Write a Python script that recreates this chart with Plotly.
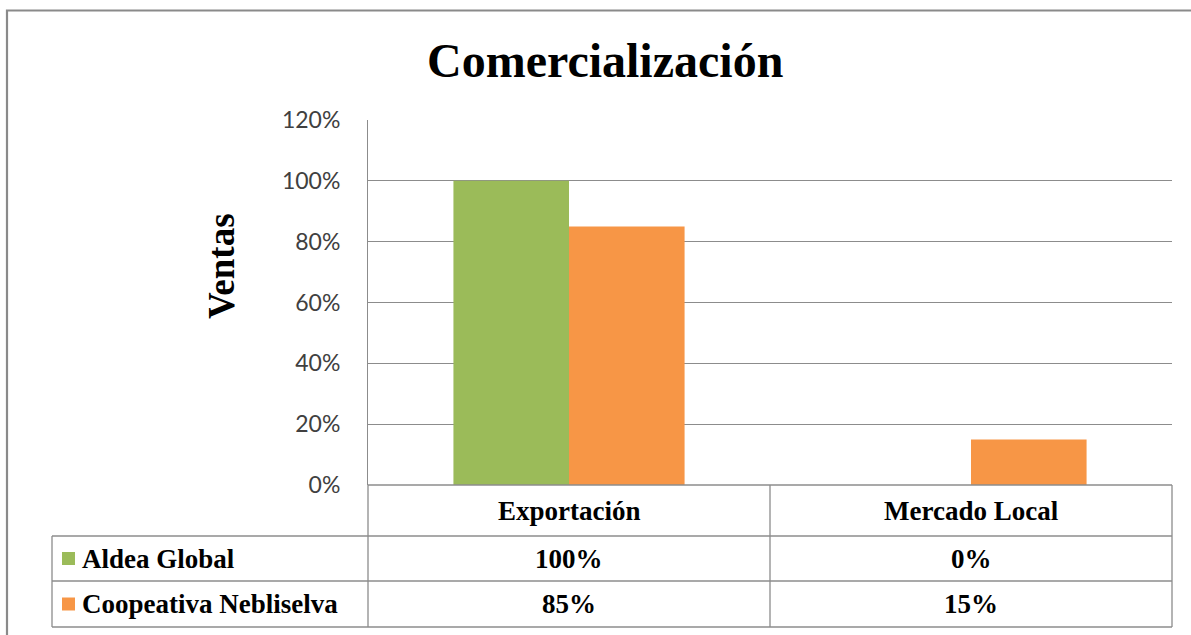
import plotly.graph_objects as go

# ---- data ----
categories = ["Exportación", "Mercado Local"]
series_names = ["Aldea Global", "Coopeativa Nebliselva"]
aldea_global = [1.00, 0.00]
coop_nebliselva = [0.85, 0.15]
series_values = [aldea_global, coop_nebliselva]
series_colors = ["#9BBB59", "#F79646"]
y_ticks = [0, 0.2, 0.4, 0.6, 0.8, 1.0, 1.2]

W, H = 1191, 635
def px(x):
    return x / W
def py(y):
    return 1 - y / H

SERIF = "Liberation Serif, Times New Roman, serif"
SANS = "Lato, Carlito, Calibri, sans-serif"
GRID = "#8C8C8C"

fig = go.Figure()
for name, vals, col in zip(series_names, series_values, series_colors):
    fig.add_trace(go.Bar(x=categories, y=vals, name=name, marker_color=col,
                         marker_line_width=0, showlegend=False))

x_left, x_right = 368, 1172
y_top, y_bottom = 120, 485

fig.update_layout(
    width=W, height=H,
    margin=dict(l=0, r=0, t=0, b=0, pad=0, autoexpand=False),
    paper_bgcolor="white", plot_bgcolor="white",
    barmode="group", bargap=0.425, bargroupgap=0,
    xaxis=dict(domain=[px(x_left), px(x_right)], showticklabels=False,
               showgrid=False, zeroline=False, showline=False, fixedrange=True,
               automargin=False),
    yaxis=dict(domain=[py(y_bottom), py(y_top)], range=[0, 1.2],
               tickvals=y_ticks, tickformat=".0%",
               tickfont=dict(family=SANS, size=23, color="#404040"),
               ticklabelstandoff=22, automargin=False,
               showgrid=True, gridcolor=GRID, gridwidth=1,
               zeroline=False, showline=True, linecolor=GRID, linewidth=1,
               ticks=""),
)

shapes = []
line = dict(color=GRID, width=1.3)
# outer frame
shapes.append(dict(type="rect", xref="paper", yref="paper",
                   x0=px(7), x1=1.02, y0=-0.02, y1=py(10.5),
                   line=dict(color="#8A8A8A", width=2.2)))
# data table lines
row_ys = [485, 536, 581, 627]
shapes.append(dict(type="line", xref="paper", yref="paper",
                   x0=px(x_left), x1=px(x_right), y0=py(485), y1=py(485), line=line))
for yv in row_ys[1:]:
    shapes.append(dict(type="line", xref="paper", yref="paper",
                       x0=px(52), x1=px(x_right), y0=py(yv), y1=py(yv), line=line))
for xv in [x_left, 770, x_right]:
    shapes.append(dict(type="line", xref="paper", yref="paper",
                       x0=px(xv), x1=px(xv), y0=py(485), y1=py(627), line=line))
shapes.append(dict(type="line", xref="paper", yref="paper",
                   x0=px(52), x1=px(52), y0=py(536), y1=py(627), line=line))
# legend keys
row_centers = [558.5, 604]
for yc, col in zip(row_centers, series_colors):
    shapes.append(dict(type="rect", xref="paper", yref="paper",
                       x0=px(62), x1=px(75), y0=py(yc + 6.5), y1=py(yc - 6.5),
                       fillcolor=col, line=dict(width=0)))
fig.update_layout(shapes=shapes)

ann = []
# title
ann.append(dict(text="<b>Comercialización</b>", xref="paper", yref="paper",
                x=px(605), y=py(60), showarrow=False,
                font=dict(family=SERIF, size=48, color="black"),
                xanchor="center", yanchor="middle"))
# y axis title
ann.append(dict(text="<b>Ventas</b>", xref="paper", yref="paper",
                x=px(221), y=py(266), showarrow=False, textangle=-90,
                font=dict(family=SERIF, size=37, color="black"),
                xanchor="center", yanchor="middle"))
tfont = dict(family=SERIF, size=27, color="black")
# header row category labels
for c in categories:
    ann.append(dict(text=f"<b>{c}</b>", xref="x", yref="paper", x=c, y=py(511),
                    showarrow=False, font=tfont, xanchor="center", yanchor="middle"))
# series rows
for name, vals, yc in zip(series_names, series_values, row_centers):
    ann.append(dict(text=f"<b>{name}</b>", xref="paper", yref="paper",
                    x=px(80), y=py(yc), showarrow=False, font=tfont,
                    xanchor="left", yanchor="middle"))
    for c, v in zip(categories, vals):
        ann.append(dict(text=f"<b>{v:.0%}</b>", xref="x", yref="paper", x=c, y=py(yc),
                        showarrow=False, font=tfont, xanchor="center", yanchor="middle"))
fig.update_layout(annotations=ann)

fig.write_html("out.html")
